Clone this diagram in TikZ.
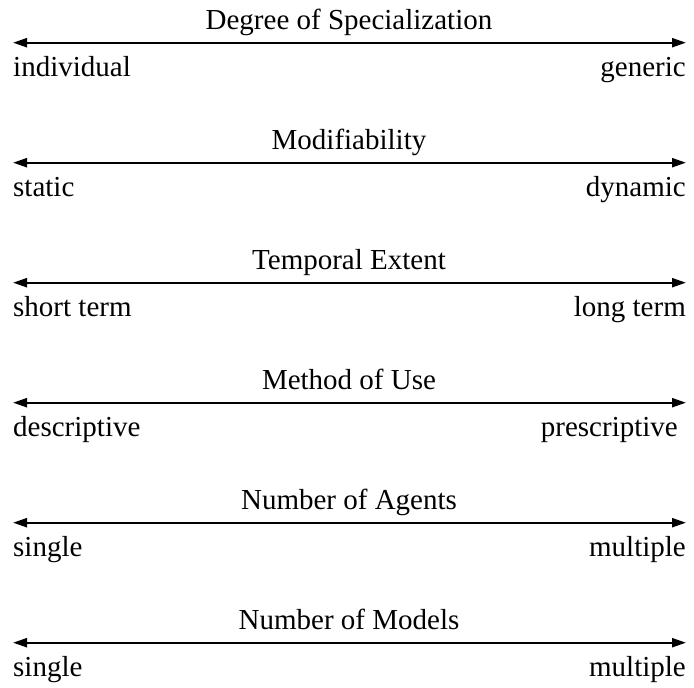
\documentclass[tikz,border=0pt]{standalone}
\usepackage{fontspec}
\setmainfont{Liberation Serif}
\usetikzlibrary{arrows.meta}
\begin{document}
\begin{tikzpicture}[x=1pt,y=-1pt,
  scale line/.style={line width=2.2pt,{Triangle[length=14pt,width=9pt]}-{Triangle[length=14pt,width=9pt]}},
  title/.style={font=\fontsize{29}{34}\selectfont,anchor=base,inner sep=0pt},
  lefttag/.style={font=\fontsize{29}{34}\selectfont,anchor=base west,inner sep=0pt},
  righttag/.style={font=\fontsize{29}{34}\selectfont,anchor=base east,inner sep=0pt}]
\useasboundingbox (0,0) rectangle (694,688);
% one bipolar scale per row: title above, end labels below
\foreach \i/\t/\l/\r/\dx in {
  0/Degree of Specialization/individual/generic/0,
  1/Modifiability/static/dynamic/0,
  2/Temporal Extent/short term/long term/0,
  3/Method of Use/descriptive/prescriptive/8,
  4/Number of Agents/single/multiple/0,
  5/Number of Models/single/multiple/0}{
  \pgfmathsetmacro{\yy}{42.7+120*\i}
  \coordinate (L\i) at (13,\yy);
  \coordinate (R\i) at (686,\yy);
  \draw[scale line] (L\i) -- (R\i);
  \node[title] (T\i) at (349,\yy-13) {\t};
  \node[lefttag] (A\i) at (13,\yy+34) {\l};
  \node[righttag] (B\i) at (686-\dx,\yy+34) {\r};
}
\end{tikzpicture}
\end{document}
